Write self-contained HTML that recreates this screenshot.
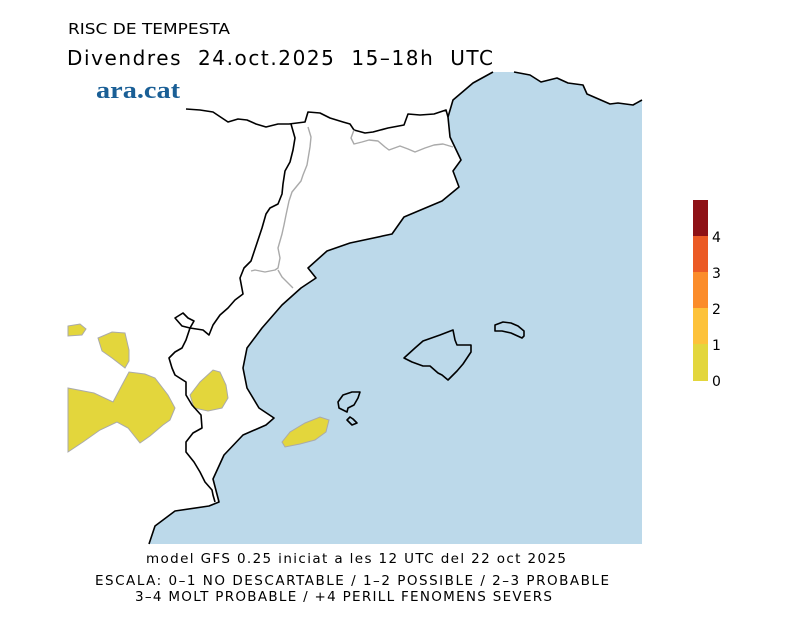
<!DOCTYPE html>
<html><head><meta charset="utf-8"><style>
html,body{margin:0;padding:0;background:#fff;width:800px;height:617px;overflow:hidden}
svg text{font-family:"DejaVu Sans","Liberation Sans",sans-serif;fill:#000}
</style></head><body>
<svg width="800" height="617" viewBox="0 0 800 617" xmlns="http://www.w3.org/2000/svg">
<text x="68" y="34" font-size="15" textLength="162" lengthAdjust="spacingAndGlyphs">RISC DE TEMPESTA</text>
<text x="67" y="65" font-size="20" textLength="426" lengthAdjust="spacing" xml:space="preserve">Divendres  24.oct.2025  15–18h  UTC</text>
<text x="96" y="98" font-size="24" font-weight="bold" textLength="84" lengthAdjust="spacingAndGlyphs" style="font-family:'Liberation Serif',serif;fill:#1a5f96">ara.cat</text>
<!-- sea -->
<path d="M642,100 L633,105 L618,103 L610,104 L587,94 L583,85 L568,83 L557,78 L541,82 L530,75 L514,72 L493,72 L473,83 L453,100 L448,117 L450,137 L461,160 L453,171 L459,187 L442,201 L404,217 L392,234 L350,243 L327,251 L308,268 L316,278 L301,288 L282,305 L262,328 L247,348 L243,368 L247,388 L259,408 L274,418 L266,425 L243,435 L224,455 L213,479 L219,502 L209,506 L175,511 L155,526 L149,544 L642,544 Z" fill="#bcd9ea"/>
<path d="M642,100 L633,105 L618,103 L610,104 L587,94 L583,85 L568,83 L557,78 L541,82 L530,75 L514,72 M493,72 L473,83 L453,100 L448,117 L450,137 L461,160 L453,171 L459,187 L442,201 L404,217 L392,234 L350,243 L327,251 L308,268 L316,278 L301,288 L282,305 L262,328 L247,348 L243,368 L247,388 L259,408 L274,418 L266,425 L243,435 L224,455 L213,479 L219,502 L209,506 L175,511 L155,526 L149,544" fill="none" stroke="#000" stroke-width="1.6" stroke-linejoin="round"/>
<!-- yellow -->
<g fill="#e3d63c" stroke="#aaa" stroke-width="1">
<path d="M68,326 L80,324 L86,329 L82,335 L68,336 Z"/>
<path d="M98,338 L112,332 L125,333 L129,350 L129,361 L125,368 L112,358 L102,351 Z"/>
<path d="M68,388 L94,393 L113,402 L122,385 L129,372 L145,374 L155,378 L168,395 L175,408 L170,420 L163,425 L150,436 L140,443 L128,428 L117,422 L100,430 L83,442 L68,452 Z"/>
<path d="M190,395 L200,382 L213,370 L220,372 L226,385 L228,398 L222,408 L208,411 L194,408 Z"/>
<path d="M282,442 L290,432 L305,423 L320,417 L329,420 L326,432 L315,440 L300,444 L285,447 Z"/>
</g>
<!-- borders -->
<g fill="none" stroke="#000" stroke-width="1.6" stroke-linejoin="round">
<path d="M186,109 L200,110 L213,112 L222,118 L228,122 L238,119 L247,120 L256,124 L266,127 L278,124 L289,124 L305,122 L308,112 L320,113 L330,118 L343,122 L350,124 L354,130 L365,133 L373,132 L388,128 L404,125 L408,114 L420,115 L434,114 L446,110 L448,117"/>
<path d="M291,124 L295,138 L293,150 L290,162 L285,171 L283,184 L282,194 L278,204 L270,208 L266,214 L262,228 L258,240 L251,261 L244,268 L240,278 L243,294 L235,300 L228,308 L220,315 L213,325 L209,335 L203,330 L190,328"/>
<path d="M175,318 L183,313 L188,318 L194,321 L190,328 L182,326 Z"/>
<path d="M190,328 L186,340 L182,348 L175,352 L169,358 L172,368 L175,375 L186,382 L186,395 L192,405 L201,415 L202,428 L193,433 L186,442 L186,452 L194,462 L200,472 L205,482 L212,490 L213,495 L215,502"/>
<path d="M404,358 L415,348 L423,341 L440,335 L453,330 L455,340 L457,345 L471,345 L471,352 L469,355 L463,364 L457,371 L448,380 L442,375 L438,373 L430,366 L423,366 L412,362 Z"/>
<path d="M495,325 L503,322 L511,323 L518,326 L524,331 L524,336 L522,338 L511,333 L502,331 L495,331 Z"/>
<path d="M339,408 L338,402 L343,395 L352,392 L360,392 L358,398 L354,405 L348,408 L347,412 Z"/>
<path d="M347,420 L350,417 L353,419 L357,423 L352,425 Z"/>
</g>
<g fill="none" stroke="#aaa" stroke-width="1.4" stroke-linejoin="round">
<path d="M308,127 L311,137 L310,147 L307,165 L303,175 L301,181 L292,192 L289,201 L286,215 L284,225 L282,234 L278,248 L280,258 L278,268 L275,270 L265,272 L255,270 L251,271"/>
<path d="M278,270 L282,277 L293,288"/>
<path d="M354,130 L351,138 L354,144 L362,142 L369,140 L378,141 L385,147 L389,150 L400,146 L408,149 L415,152 L425,148 L434,145 L443,144 L453,147"/>
</g>
<!-- colorbar -->
<rect x="693" y="200" width="15" height="36" fill="#8e1116"/>
<rect x="693" y="236" width="15" height="36" fill="#eb5a25"/>
<rect x="693" y="272" width="15" height="36" fill="#fb8c2a"/>
<rect x="693" y="308" width="15" height="36" fill="#fdc23a"/>
<rect x="693" y="344" width="15" height="37" fill="#e3d63c"/>
<g font-size="14">
<text x="712" y="242">4</text>
<text x="712" y="278">3</text>
<text x="712" y="314">2</text>
<text x="712" y="350">1</text>
<text x="712" y="386">0</text>
</g>
<text x="146" y="563" font-size="13.5" textLength="420" lengthAdjust="spacing">model GFS 0.25 iniciat a les 12 UTC del 22 oct 2025</text>
<text x="95" y="585" font-size="13.5" textLength="514" lengthAdjust="spacing">ESCALA: 0–1 NO DESCARTABLE / 1–2 POSSIBLE / 2–3 PROBABLE</text>
<text x="135" y="601" font-size="13.5" textLength="417" lengthAdjust="spacing">3–4 MOLT PROBABLE / +4 PERILL FENOMENS SEVERS</text>
</svg>
</body></html>
